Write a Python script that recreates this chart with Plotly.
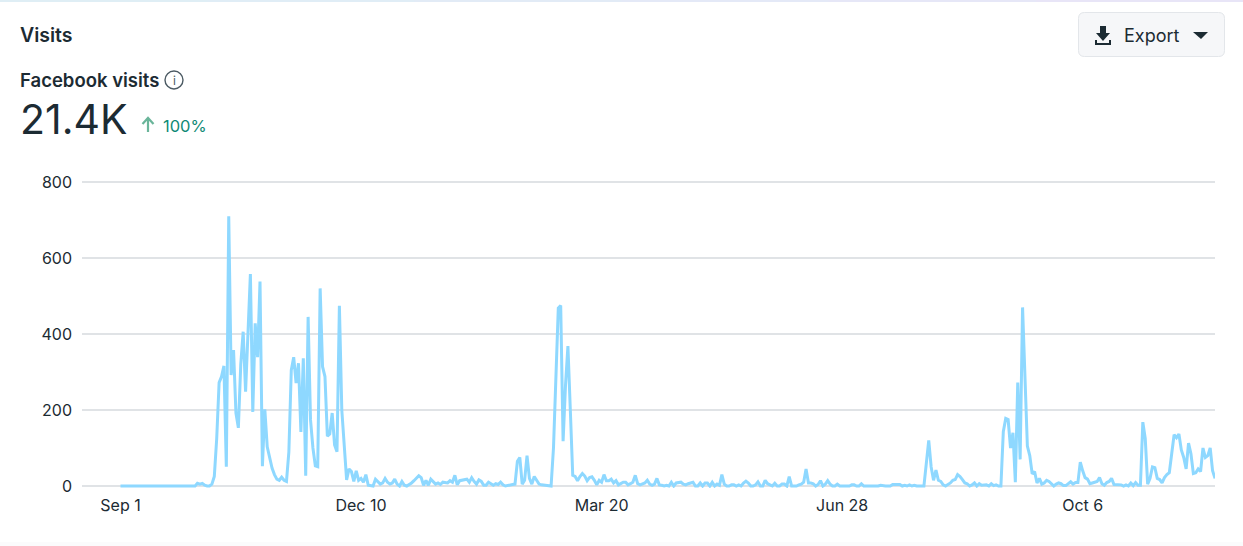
import datetime as dt
import plotly.graph_objects as go

W, H = 1243, 546
L, R, T, B = 82, 1215, 180, 488

start_date = dt.date(2023, 9, 1)
tick_labels = ["Sep 1", "Dec 10", "Mar 20", "Jun 28", "Oct 6"]
tick_days = [0, 100, 200, 300, 400]
y_ticks = [0, 200, 400, 600, 800]

visits_a = [0] * 32 + [7, 5, 7, 2, 0, 0, 5, 25, 125, 272, 288, 316, 51, 710, 292, 358, 192, 153,
    320, 406, 248, 400, 558, 195, 428, 339, 538, 52, 202, 103, 70, 47, 30, 18, 15, 23, 15, 12,
    90, 305, 339, 271, 323, 142, 336, 27, 445, 174, 100, 53, 51, 520, 314, 288, 131, 137, 192,
    108, 90, 474, 200, 100, 16, 45, 38, 12, 40, 15, 20, 10, 30, 2, 0, 0, 18, 10]
visits_b = [5, 8, 20, 10, 5, 8, 18, 5, 0, 12, 2, 0, 3, 8, 14, 20, 27, 22, 2, 15, 2, 18, 12, 5,
    8, 4, 10, 8, 8, 14, 10, 28, 3, 14, 16, 18, 18, 10, 22, 12, 5, 16, 12, 2, 2, 10, 5, 2, 6, 4,
    10, 3, 0, 2, 3, 4, 5, 65, 75, 5, 15, 80, 20, 5, 25, 15, 5, 3, 2, 1, 0, 0, 100, 300, 468, 475,
    118, 265, 368, 200, 28, 25, 14, 25, 33, 26, 14, 22, 24, 15, 3, 15, 10, 30, 14, 14, 18, 8, 14,
    3, 6, 10, 10, 3, 6, 10, 28, 6, 3, 5, 8, 15, 5, 2, 5, 20, 3, 2, 0, 2, 0, 10, 0, 8, 10]
visits_c = [10, 5, 3, 6, 8, 10, 0, 0, 8, 0, 8, 8, 0, 10, 0, 5, 2, 30, 5, 0, 0, 3, 3, 0, 3, 0, 8,
    13, 8, 0, 0, 3, 11, 0, 0, 15, 6, 2, 0, 7, 0, 0, 5, 5, 0, 25, 0, 0, 0, 3, 5, 10, 45, 8, 8, 6,
    0, 4, 14, 0, 5, 14, 5, 0, 0, 5, 0, 0, 0, 0, 0, 3, 3, 0, 0, 6, 0, 0, 0, 0, 0, 0, 0, 2, 0, 0,
    0, 0, 4, 4, 4, 4, 0, 2, 0, 3, 0, 2, 0, 0, 0, 0, 60, 120, 50, 15, 42, 15, 12, 3, 0, 3, 8, 15,
    17, 30, 25, 17, 8, 6, 0, 3, 8, 0]
visits_d = [6, 2, 3, 3, 0, 6, 1, 3, 0, 0, 143, 178, 175, 100, 140, 10, 272, 70, 470, 300, 105, 80,
    32, 38, 8, 20, 5, 8, 15, 12, 5, 0, 5, 8, 6, 1, 1, 5, 11, 5, 9, 9, 63, 40, 22, 18, 6, 8, 9, 12,
    22, 6, 2, 9, 12, 20, 4, 4, 4, 3, 0, 3, 0, 8, 1, 9, 2, 2, 168, 125, 5, 20, 50, 48, 20, 17, 8,
    22, 30, 35, 85, 135, 127, 137, 95, 75, 45, 113, 85, 33, 35, 45, 38, 100, 75, 80, 100, 40, 20]

visits = visits_a + visits_b + visits_c + visits_d
dates = [start_date + dt.timedelta(days=i) for i in range(len(visits))]
tick_dates = [start_date + dt.timedelta(days=d) for d in tick_days]

INK = "#1c2b33"
FONT = "Inter, Roboto, sans-serif"
px_per_day = 2.4
units_per_px = 1 / 0.38
x0 = start_date - dt.timedelta(days=(121 - L) / px_per_day)
x1 = start_date + dt.timedelta(days=(R - 121) / px_per_day)
y_pad = 2 * units_per_px


def fx(p):
    return (p - L) / (R - L)


def fy(p):
    return (B - p) / (B - T)


def rect(x_a, y_a, x_b, y_b, **kw):
    return dict(type="rect", xref="paper", yref="paper", x0=fx(x_a), x1=fx(x_b), y0=fy(y_b), y1=fy(y_a), layer="below", **kw)


def path_px(points, **kw):
    d = "M" + " L".join(f"{fx(a):.5f},{fy(b):.5f}" for a, b in points) + " Z"
    return dict(type="path", xref="paper", yref="paper", path=d, layer="above", **kw)


def text(s, x, y, size, color=INK, weight=400, anchor="left"):
    return dict(text=s, x=fx(x), y=fy(y), xref="paper", yref="paper", xanchor=anchor, yanchor="middle",
                showarrow=False, font=dict(family=FONT, size=size, color=color, weight=weight), align="left")


def rounded(x_a, y_a, x_b, y_b, r):
    d = (f"M{fx(x_a + r)},{fy(y_a)} L{fx(x_b - r)},{fy(y_a)} Q{fx(x_b)},{fy(y_a)} {fx(x_b)},{fy(y_a + r)} "
         f"L{fx(x_b)},{fy(y_b - r)} Q{fx(x_b)},{fy(y_b)} {fx(x_b - r)},{fy(y_b)} "
         f"L{fx(x_a + r)},{fy(y_b)} Q{fx(x_a)},{fy(y_b)} {fx(x_a)},{fy(y_b - r)} "
         f"L{fx(x_a)},{fy(y_a + r)} Q{fx(x_a)},{fy(y_a)} {fx(x_a + r)},{fy(y_a)} Z")
    return d


shapes = []
# top tint band
band = ["#dfeef5", "#e0edf6", "#e2ebf6", "#e4e9f7", "#e6e7f7", "#e8e5f7"]
for i, c in enumerate(band):
    shapes.append(rect(i * W / 6, 0, (i + 1) * W / 6 + 1, 2, fillcolor=c, line_width=0))
# bottom tint
shapes.append(rect(0, 542, W, H, fillcolor="#fbfbfc", line_width=0))
# export button
shapes.append(dict(type="path", xref="paper", yref="paper", path=rounded(1078.5, 12.5, 1224.5, 56.5, 6), fillcolor="#f6f7f9",
                   line=dict(color="#e3e6ea", width=1), layer="below"))
# download icon
shapes.append(path_px([(1100, 26), (1106, 26), (1106, 33), (1110, 33), (1103, 41), (1096, 33), (1100, 33)], fillcolor=INK, line_width=0))
shapes.append(path_px([(1095, 40), (1097, 40), (1097, 43), (1109, 43), (1109, 40), (1111, 40), (1111, 45), (1095, 45)], fillcolor=INK, line_width=0))
# caret
shapes.append(path_px([(1193, 32), (1208, 32), (1201, 39)], fillcolor=INK, line_width=0))
# info circle
shapes.append(dict(type="circle", xref="paper", yref="paper", x0=fx(165), x1=fx(183), y0=fy(89), y1=fy(71),
                   line=dict(color="#4b5a63", width=1.4), layer="above"))
# green up arrow
shapes.append(dict(type="path", xref="paper", yref="paper",
                   path=f"M{fx(148)},{fy(132)} L{fx(148)},{fy(118)} M{fx(142.5)},{fy(124)} L{fx(148)},{fy(118)} L{fx(153.5)},{fy(124)}",
                   line=dict(color="#6ab59a", width=2.2), layer="above"))

annotations = [
    text("Visits", 18, 35, 19.5, weight=600),
    text("Facebook visits", 18, 79.5, 18.5, weight=600),
    text("i", 174, 80, 12, color="#4b5a63", anchor="center"),
    text("21.4K", 18, 119, 41),
    text("100%", 161, 126, 16.5, color="#0f8a76"),
    text("Export", 1122, 35, 18),
]

fig = go.Figure(go.Scatter(x=dates, y=visits, mode="lines", line=dict(color="#8ed8ff", width=3, shape="linear"),
                           hoverinfo="skip", showlegend=False))
fig.update_layout(
    width=W, height=H, autosize=False,
    margin=dict(l=L, r=W - R, t=T, b=H - B, pad=0),
    paper_bgcolor="white", plot_bgcolor="rgba(0,0,0,0)",
    font=dict(family=FONT, size=16, color=INK),
    shapes=shapes, annotations=annotations,
    xaxis=dict(type="date", range=[x0, x1], tickvals=tick_dates, ticktext=tick_labels, showgrid=False, zeroline=False,
               showline=False, ticks="", ticklabelstandoff=6, tickfont=dict(size=16, color=INK)),
    yaxis=dict(range=[-y_pad, 800 + y_pad], tickvals=y_ticks, showgrid=True, gridcolor="#e0e3e6", gridwidth=2, zeroline=False,
               showline=False, ticks="", ticklabelstandoff=9, tickfont=dict(size=16, color=INK)),
)
fig.write_html("out.html", config=dict(displayModeBar=False), post_script="document.body.style.margin='0';document.body.style.overflow='hidden';")
